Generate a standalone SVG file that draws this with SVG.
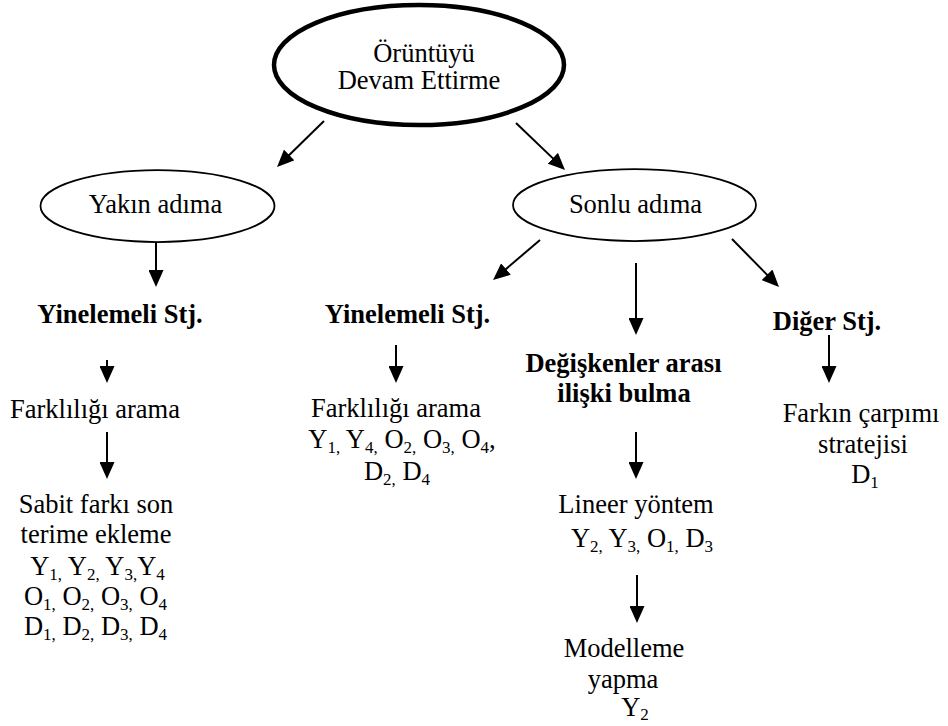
<svg xmlns="http://www.w3.org/2000/svg" width="948" height="726" viewBox="0 0 948 726" font-family="'Liberation Serif', 'DejaVu Serif', serif">
  <style>
    text { font-family: 'Liberation Serif', 'DejaVu Serif', serif; font-size: 26.5px; fill: #000; text-anchor: middle; }
    .b { font-weight: bold; }
    .s { font-size: 17px; }
    .oval { fill: #fff; stroke: #000; stroke-width: 1.75; }
    .main { fill: #fff; stroke: #000; stroke-width: 4.5; }
    .arr { stroke: #000; stroke-width: 2; fill: none; marker-end: url(#head); }
  </style>
  <defs>
    <marker id="head" viewBox="0 0 17 15" markerWidth="17" markerHeight="15" refX="6" refY="7.5" markerUnits="userSpaceOnUse" orient="auto">
      <path d="M0,0 L17,7.5 L0,15 Z" fill="#000"/>
    </marker>
  </defs>
  <rect width="948" height="726" fill="#fff"/>

  <!-- connectors: each line stops 11px short of its arrow tip -->
  <g id="connectors">
    <line class="arr" x1="324" y1="121" x2="284.9" y2="159.2"/>
    <line class="arr" x1="516" y1="123" x2="557.1" y2="162.4"/>
    <line class="arr" x1="156" y1="243" x2="156" y2="276"/>
    <line class="arr" x1="540" y1="240" x2="501.4" y2="272.9"/>
    <line class="arr" x1="636" y1="263" x2="636" y2="324"/>
    <line class="arr" x1="732" y1="239" x2="771.3" y2="279.1"/>
    <line class="arr" x1="107" y1="360" x2="107" y2="372"/>
    <line class="arr" x1="107" y1="432" x2="107" y2="468"/>
    <line class="arr" x1="396" y1="345" x2="396" y2="372"/>
    <line class="arr" x1="636" y1="432" x2="636" y2="468"/>
    <line class="arr" x1="637" y1="575" x2="637" y2="612"/>
    <line class="arr" x1="829" y1="335" x2="829" y2="372"/>
  </g>

  <g id="root">
    <ellipse class="main" cx="419" cy="65" rx="145" ry="60"/>
    <text x="424" y="62">Örüntüyü</text>
    <text x="419" y="89">Devam Ettirme</text>
  </g>

  <g id="yakin">
    <ellipse class="oval" cx="157.5" cy="206" rx="117" ry="36"/>
    <text x="155.5" y="213">Yakın adıma</text>
  </g>

  <g id="sonlu">
    <ellipse class="oval" cx="634.5" cy="205" rx="121.5" ry="36"/>
    <text x="635.5" y="213">Sonlu adıma</text>
  </g>

  <g id="yakin-yinelemeli">
    <text class="b" x="120" y="323">Yinelemeli Stj.</text>
  </g>

  <g id="yakin-farklilik">
    <text x="95" y="418">Farklılığı arama</text>
  </g>

  <g id="sabit-fark">
    <text x="96" y="513">Sabit farkı son</text>
    <text x="96" y="543">terime ekleme</text>
    <text x="97.5" y="575">Y<tspan class="s" dy="5">1,</tspan><tspan dy="-5"> Y</tspan><tspan class="s" dy="5">2,</tspan><tspan dy="-5"> Y</tspan><tspan class="s" dy="5">3,</tspan><tspan dy="-5">Y</tspan><tspan class="s" dy="5">4</tspan></text>
    <text x="95.5" y="605">O<tspan class="s" dy="5">1,</tspan><tspan dy="-5"> O</tspan><tspan class="s" dy="5">2,</tspan><tspan dy="-5"> O</tspan><tspan class="s" dy="5">3,</tspan><tspan dy="-5"> O</tspan><tspan class="s" dy="5">4</tspan></text>
    <text x="95.5" y="635">D<tspan class="s" dy="5">1,</tspan><tspan dy="-5"> D</tspan><tspan class="s" dy="5">2,</tspan><tspan dy="-5"> D</tspan><tspan class="s" dy="5">3,</tspan><tspan dy="-5"> D</tspan><tspan class="s" dy="5">4</tspan></text>
  </g>

  <g id="sonlu-yinelemeli">
    <text class="b" x="407.5" y="323">Yinelemeli Stj.</text>
  </g>

  <g id="sonlu-farklilik">
    <text x="396" y="417">Farklılığı arama</text>
    <text x="402" y="448">Y<tspan class="s" dy="5">1,</tspan><tspan dy="-5"> Y</tspan><tspan class="s" dy="5">4,</tspan><tspan dy="-5"> O</tspan><tspan class="s" dy="5">2,</tspan><tspan dy="-5"> O</tspan><tspan class="s" dy="5">3,</tspan><tspan dy="-5"> O</tspan><tspan class="s" dy="5">4</tspan><tspan dy="-5">,</tspan></text>
    <text x="397" y="480">D<tspan class="s" dy="5">2,</tspan><tspan dy="-5"> D</tspan><tspan class="s" dy="5">4</tspan></text>
  </g>

  <g id="degiskenler">
    <text class="b" x="623.5" y="372">Değişkenler arası</text>
    <text class="b" x="624" y="402">ilişki bulma</text>
  </g>

  <g id="lineer">
    <text x="636" y="513">Lineer yöntem</text>
    <text x="642" y="547">Y<tspan class="s" dy="5">2,</tspan><tspan dy="-5"> Y</tspan><tspan class="s" dy="5">3,</tspan><tspan dy="-5"> O</tspan><tspan class="s" dy="5">1,</tspan><tspan dy="-5"> D</tspan><tspan class="s" dy="5">3</tspan></text>
  </g>

  <g id="modelleme">
    <text x="624" y="657">Modelleme</text>
    <text x="623" y="688">yapma</text>
    <text x="635" y="716">Y<tspan class="s" dy="4">2</tspan></text>
  </g>

  <g id="diger">
    <text class="b" x="827" y="330">Diğer Stj.</text>
  </g>

  <g id="farkin-carpimi">
    <text x="861" y="422">Farkın çarpımı</text>
    <text x="863" y="453">stratejisi</text>
    <text x="865" y="483">D<tspan class="s" dy="5">1</tspan></text>
  </g>
</svg>
